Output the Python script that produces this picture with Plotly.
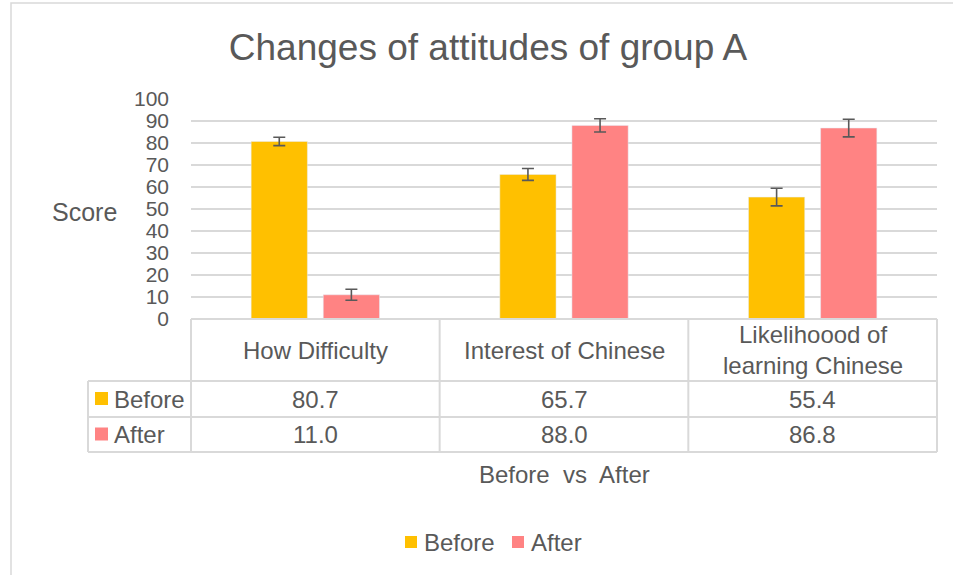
import plotly.graph_objects as go

# ---- data ----
categories = ["How Difficulty", "Interest of Chinese", "Likelihoood of learning Chinese"]
header_labels = ["How Difficulty", "Interest of Chinese", "Likelihoood of<br>learning Chinese"]
series_names = ["Before", "After"]
before_scores = [80.7, 65.7, 55.4]
after_scores = [11.0, 88.0, 86.8]
before_err = [1.9, 2.7, 4.0]
after_err = [2.5, 3.0, 4.0]
y_ticks = [0, 10, 20, 30, 40, 50, 60, 70, 80, 90, 100]

# ---- style ----
W, H = 953, 575
ML, MR, MT, MB = 191, 16, 99, 256
C_BEFORE = "#FFC000"
C_AFTER = "#FF8383"
TXT = "#595959"
LINE = "#D9D9D9"
FONT = "Liberation Sans"
FS = 24

PW = W - ML - MR
PH = H - MT - MB


def px(x):
    """pixel x -> paper x"""
    return (x - ML) / PW


def py(y):
    """pixel y -> paper y"""
    return (H - MB - y) / PH


fig = go.Figure()
fig.add_trace(go.Bar(
    name=series_names[0], x=categories, y=before_scores, marker_color=C_BEFORE,
    error_y=dict(type="data", array=before_err, color=TXT, thickness=1.6, width=6),
))
fig.add_trace(go.Bar(
    name=series_names[1], x=categories, y=after_scores, marker_color=C_AFTER,
    error_y=dict(type="data", array=after_err, color=TXT, thickness=1.6, width=6),
))

shapes = []
# outer chart border (runs off the right and bottom edges)
shapes.append(dict(type="rect", xref="paper", yref="paper",
                   x0=px(11), x1=px(980), y0=py(3), y1=py(600),
                   line=dict(color=LINE, width=1.5), layer="below"))

# data table grid
col_edges = [ML + i * PW / 3 for i in range(4)]
row_y = [319, 381, 417, 452]
shapes.append(dict(type="line", xref="paper", yref="paper",
                   x0=px(col_edges[0]), x1=px(col_edges[-1]), y0=py(row_y[0]), y1=py(row_y[0]),
                   line=dict(color=LINE, width=2)))
for yy in row_y[1:]:
    shapes.append(dict(type="line", xref="paper", yref="paper",
                       x0=px(88), x1=px(col_edges[-1]), y0=py(yy), y1=py(yy),
                       line=dict(color=LINE, width=2)))
for xx in col_edges:
    shapes.append(dict(type="line", xref="paper", yref="paper",
                       x0=px(xx), x1=px(xx), y0=py(row_y[0]), y1=py(row_y[-1]),
                       line=dict(color=LINE, width=2)))
shapes.append(dict(type="line", xref="paper", yref="paper",
                   x0=px(88), x1=px(88), y0=py(row_y[1]), y1=py(row_y[-1]),
                   line=dict(color=LINE, width=2)))

annotations = []
# header row: category names
for i, lab in enumerate(header_labels):
    cx = (col_edges[i] + col_edges[i + 1]) / 2
    annotations.append(dict(xref="paper", yref="paper", x=px(cx), y=py(350),
                            text=lab, showarrow=False, xanchor="center", yanchor="middle",
                            font=dict(family=FONT, size=FS, color=TXT)))

# data rows: series keys, names and values
rows = [(series_names[0], C_BEFORE, before_scores), (series_names[1], C_AFTER, after_scores)]
for r, (name, col, vals) in enumerate(rows):
    top, bot = row_y[r + 1], row_y[r + 2]
    cy = (top + bot) / 2
    shapes.append(dict(type="rect", xref="paper", yref="paper",
                       x0=px(95), x1=px(108), y0=py(cy - 7), y1=py(cy + 6),
                       fillcolor=col, line=dict(width=0)))
    annotations.append(dict(xref="paper", yref="paper", x=px(112), y=py(cy),
                            text=name, showarrow=False, xanchor="left", yanchor="middle",
                            font=dict(family=FONT, size=FS, color=TXT)))
    for i, v in enumerate(vals):
        cx = (col_edges[i] + col_edges[i + 1]) / 2
        annotations.append(dict(xref="paper", yref="paper", x=px(cx), y=py(cy),
                                text=f"{v:.1f}", showarrow=False, xanchor="center", yanchor="middle",
                                font=dict(family=FONT, size=FS, color=TXT)))

# bottom legend, drawn as keys + labels
legend_items = [(series_names[0], C_BEFORE, 405), (series_names[1], C_AFTER, 512)]
for name, col, kx in legend_items:
    shapes.append(dict(type="rect", xref="paper", yref="paper",
                       x0=px(kx), x1=px(kx + 12), y0=py(548), y1=py(536),
                       fillcolor=col, line=dict(width=0)))
    annotations.append(dict(xref="paper", yref="paper", x=px(kx + 17), y=py(542),
                            text=name, showarrow=False, xanchor="left", yanchor="middle",
                            font=dict(family=FONT, size=FS, color=TXT)))

# axis titles
annotations.append(dict(xref="paper", yref="paper", x=px(564), y=py(474),
                        text="Before\u00a0 vs\u00a0 After", showarrow=False,
                        xanchor="center", yanchor="middle",
                        font=dict(family=FONT, size=FS, color=TXT)))
annotations.append(dict(xref="paper", yref="paper", x=px(85), y=py(212),
                        text="Score", showarrow=False, xanchor="center", yanchor="middle",
                        font=dict(family=FONT, size=FS + 1, color=TXT)))

fig.update_layout(
    width=W, height=H,
    margin=dict(l=ML, r=MR, t=MT, b=MB, autoexpand=False),
    paper_bgcolor="white", plot_bgcolor="white",
    barmode="group", bargap=0.42, bargroupgap=0.22,
    showlegend=False,
    title=dict(text="Changes of attitudes of group A", xref="container", x=488 / W,
               xanchor="center", yref="container", y=1 - 47 / H, yanchor="middle",
               font=dict(family=FONT, size=37, color=TXT)),
    xaxis=dict(showticklabels=False, showgrid=False, zeroline=False, showline=False,
               ticks=""),
    yaxis=dict(range=[0, 100], tickvals=y_ticks, showgrid=True, gridcolor=LINE, gridwidth=2,
               zeroline=False, showline=False, ticks="", ticklabelstandoff=21,
               tickfont=dict(family=FONT, size=21, color=TXT)),
    shapes=shapes, annotations=annotations,
)

fig.write_html("out.html")
